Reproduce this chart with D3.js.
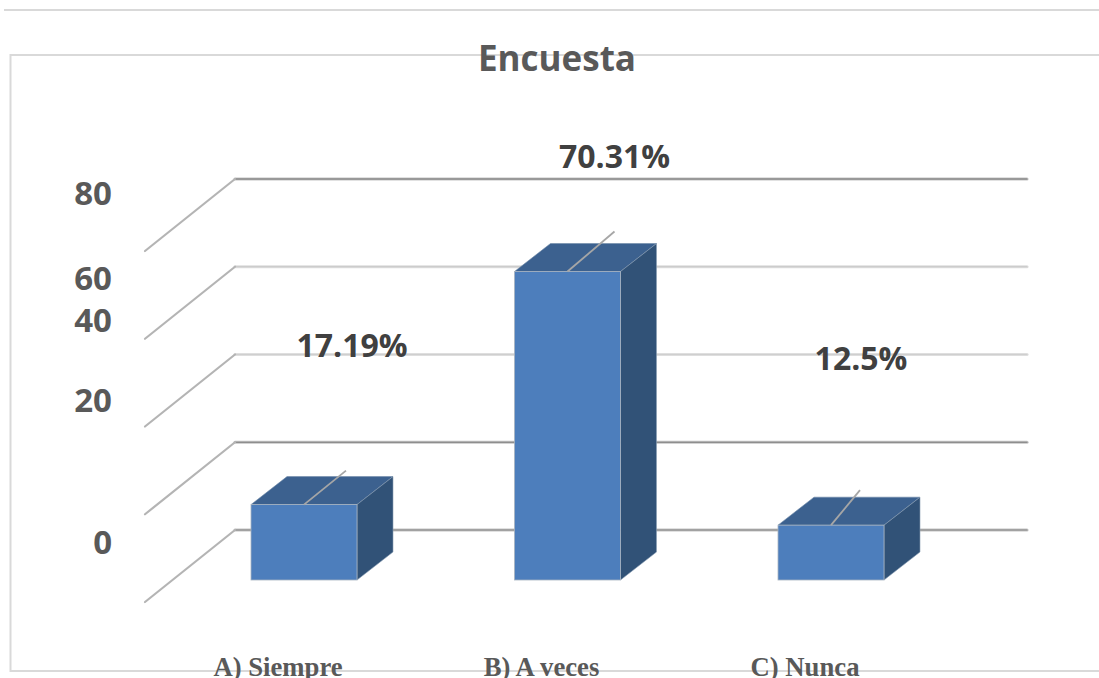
<!DOCTYPE html>
<html>
<head>
<meta charset="utf-8">
<script src="https://cdn.jsdelivr.net/npm/d3@7"></script>
<style>
  html, body { margin: 0; padding: 0; background: #fff; overflow: hidden; }
  svg { display: block; }
</style>
</head>
<body>
<svg width="1099" height="678"></svg>
<script>
const categories = ["A) Siempre", "B) A veces", "C) Nunca"];
const values = [17.19, 70.31, 12.5];
const valueLabels = ["17.19%", "70.31%", "12.5%"];
const ticks = [0, 20, 40, 60, 80];

const width = 1099, height = 678;
const svg = d3.select("svg");

// Scales for the front plane of the box
const x = d3.scalePoint().domain(categories).range([304, 831]);
const y = d3.scaleLinear().domain([0, 80]).range([580, 229]);

const barWidth = 106;
// 3D offsets: bar depth, wall behind the bars, floor in front of the wall
const depth = {dx: 36, dy: -28};
const wallDy = -50;
const wallLeft = 235, wallRight = 1027;
const floor = {dx: -90, dy: 72};

// Outer frames
svg.append("path")
    .attr("d", `M4,10H${width}`)
    .attr("stroke", "#d9d9d9").attr("stroke-width", 2).attr("fill", "none");
svg.append("path")
    .attr("d", `M${width},55H10.5V671H${width}`)
    .attr("stroke", "#d9d9d9").attr("stroke-width", 2).attr("fill", "none");

// Gridlines on the back wall: a soft band with a darker core,
// plus the slanted lines running forward over the floor
const gridStyle = {
    0: {band: "#c4c4c4", core: "#808080"},
    20: {band: "#c4c4c4", core: "#7c7c7c"},
    40: {band: "#dedede", core: "#cfcfcf"},
    60: {band: "#dedede", core: "#c6c6c6"},
    80: {band: "#c4c4c4", core: "#6e6e6e"}
};
const grid = svg.append("g").attr("fill", "none");
ticks.forEach(t => {
    const gy = y(t) + wallDy;
    [["band", 3.2], ["core", 1.2]].forEach(([key, w]) => {
        grid.append("line")
            .attr("x1", wallLeft).attr("x2", wallRight)
            .attr("y1", gy).attr("y2", gy)
            .attr("stroke", gridStyle[t][key])
            .attr("stroke-linecap", "round")
            .attr("stroke-width", w);
    });
    grid.append("line")
        .attr("x1", wallLeft).attr("y1", gy)
        .attr("x2", wallLeft + floor.dx).attr("y2", gy + floor.dy)
        .attr("stroke", "#b4b4b4")
        .attr("stroke-linecap", "round")
        .attr("stroke-width", 2.2);
});

// Bars: top, side, then front face
const bars = svg.append("g").selectAll("g")
    .data(categories.map((c, i) => ({c, v: values[i]})))
    .enter().append("g");

const outline = "#a9b4c0";
bars.append("path")
    .attr("d", d => {
        const l = x(d.c) - barWidth / 2, r = l + barWidth, t = y(d.v);
        return `M${l},${t}L${l + depth.dx},${t + depth.dy}H${r + depth.dx}L${r},${t}Z`;
    })
    .attr("fill", "#3c618f")
    .attr("stroke", "#6f8aa8")
    .attr("stroke-width", 0.6);
bars.append("path")
    .attr("d", d => {
        const r = x(d.c) + barWidth / 2, t = y(d.v), b = y(0);
        return `M${r},${t}L${r + depth.dx},${t + depth.dy}V${b + depth.dy}L${r},${b}Z`;
    })
    .attr("fill", "#315277")
    .attr("stroke", "#8a9db3")
    .attr("stroke-width", 0.6);
bars.append("rect")
    .attr("x", d => x(d.c) - barWidth / 2)
    .attr("y", d => y(d.v))
    .attr("width", barWidth)
    .attr("height", d => y(0) - y(d.v))
    .attr("fill", "#4d7ebc")
    .attr("stroke", outline)
    .attr("stroke-width", 0.8);

// Leader lines up from each bar to its label
const leaderEnds = [{dx: 42, dy: -34}, {dx: 47, dy: -40}, {dx: 29, dy: -35}];
bars.append("line")
    .attr("x1", d => x(d.c))
    .attr("y1", d => y(d.v))
    .attr("x2", (d, i) => x(d.c) + leaderEnds[i].dx)
    .attr("y2", (d, i) => y(d.v) + leaderEnds[i].dy)
    .attr("stroke", "#a6a6a6")
    .attr("stroke-width", 1.8);

// Value labels
const labelPos = [{x: 352, y: 357}, {x: 614.5, y: 168}, {x: 861, y: 370}];
svg.append("g").selectAll("text")
    .data(valueLabels)
    .enter().append("text")
    .attr("x", (d, i) => labelPos[i].x)
    .attr("y", (d, i) => labelPos[i].y)
    .attr("text-anchor", "middle")
    .attr("font-family", "'Open Sans', sans-serif")
    .attr("font-weight", 700)
    .attr("font-size", 32)
    .attr("fill", "#404040")
    .text(d => d);

// Value axis: tick labels sit off the gridlines, each with its own nudge
const tickNudge = {0: 23, 20: -31, 40: -23, 60: 23, 80: 25};
const yAxis = d3.axisLeft(y.copy().range([530, 179]))
    .tickValues(ticks)
    .tickSize(0)
    .tickPadding(0);
const axisG = svg.append("g")
    .attr("transform", "translate(112,0)")
    .call(yAxis);
axisG.select(".domain").remove();
axisG.selectAll("text")
    .attr("font-family", "'Open Sans', sans-serif")
    .attr("font-weight", 700)
    .attr("font-size", 33)
    .attr("fill", "#595959")
    .attr("dy", d => tickNudge[d]);

// Category labels under the bars
svg.append("g").selectAll("text")
    .data(categories)
    .enter().append("text")
    .attr("x", d => x(d) - 26)
    .attr("y", 676)
    .attr("text-anchor", "middle")
    .attr("font-family", "'Liberation Serif', serif")
    .attr("font-weight", 700)
    .attr("font-size", 26.7)
    .attr("fill", "#595959")
    .text(d => d);

// Title
svg.append("text")
    .attr("x", 557)
    .attr("y", 71)
    .attr("text-anchor", "middle")
    .attr("font-family", "'Open Sans', sans-serif")
    .attr("font-weight", 700)
    .attr("font-size", 35)
    .attr("fill", "#595959")
    .text("Encuesta");
</script>
</body>
</html>
